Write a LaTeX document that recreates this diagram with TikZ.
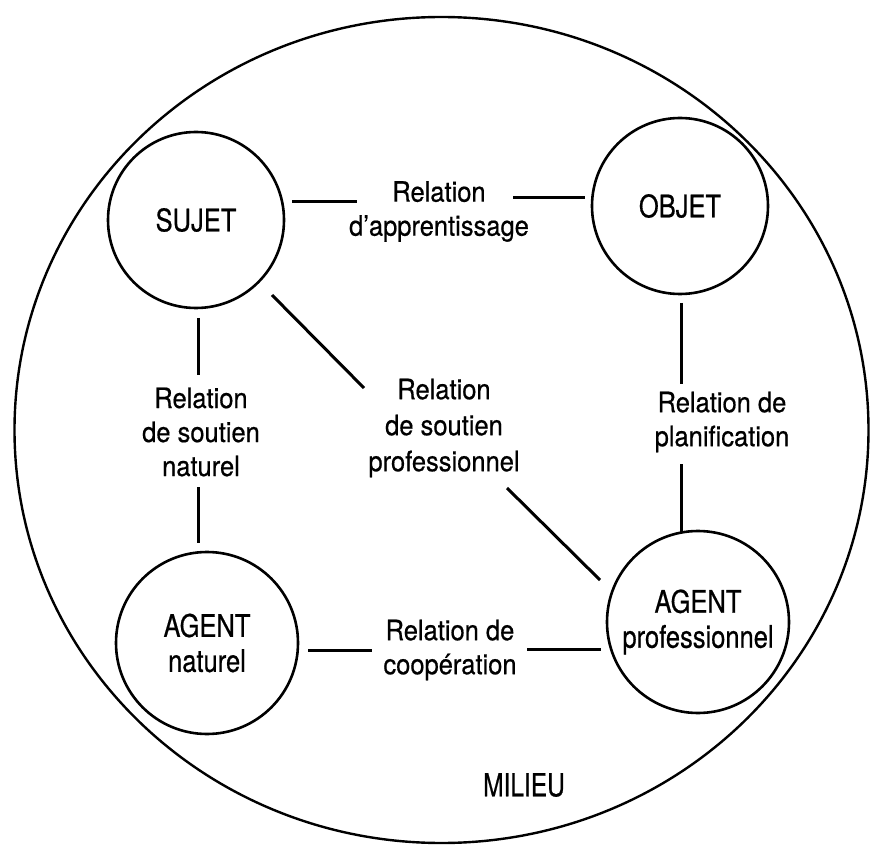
\documentclass[tikz,border=0pt]{standalone}
\usepackage{fontspec}
\usepackage{graphicx}
\setmainfont[FakeBold=0.6]{TeX Gyre Heros}
\newcommand{\vstretch}[2]{\scalebox{1}[#1]{#2}}
\newcommand{\rt}[1]{\vstretch{1.22}{#1}}
\newcommand{\lt}[1]{\vstretch{1.1}{#1}}
\usetikzlibrary{shapes.geometric}
\begin{document}
\begin{tikzpicture}[x=1pt,y=-1pt,
  role/.style={circle, draw, line width=2.6pt, minimum size=#1, inner sep=0pt, align=center,
    font=\fontsize{25.5}{35}\selectfont},
  lab/.style={inner sep=0pt, align=center, font=\fontsize{25.5}{#1}\selectfont},
  lab/.default=34,
  link/.style={line width=3pt}
]
\useasboundingbox (0,0) rectangle (871,845);
% milieu
\node[draw, ellipse, line width=2.4pt, minimum width=854pt, minimum height=826pt, inner sep=0pt] (milieuE) at (441.5,430) {};
\node[lab, font=\fontsize{24.5}{30}\selectfont] (milieu) at (524,785) {\vstretch{1.3}{MILIEU}};
% roles
\node[role=176pt] (sujet) at (196,220) {\rt{SUJET}};
\node[role=176pt] (objet) at (680,206) {\rt{OBJET}};
\node[role=182pt] (agnat) at (207,643) {\rt{AGENT}\\\rt{naturel}};
\node[role=182pt] (agpro) at (698,622) {\rt{AGENT}\\\rt{professionnel}};
% labels
\node[lab] (lapp) at (439,211.5) {\lt{Relation}\\\lt{d'apprentissage}};
\node[lab] (lsn) at (201,432) {\lt{Relation}\\\lt{de soutien}\\\lt{naturel}};
\node[lab=36] (lsp) at (444,428) {\lt{Relation}\\\lt{de soutien}\\\lt{professionnel}};
\node[lab] (lpl) at (722,422) {\lt{Relation de}\\\lt{planification}};
\node[lab] (lco) at (450,650) {\lt{Relation de}\\\lt{coopération}};
% connector end points
\coordinate (appA1) at (292,202); \coordinate (appA2) at (357,202);
\coordinate (appB1) at (513,198); \coordinate (appB2) at (585,198);
\coordinate (snA1) at (198,318); \coordinate (snA2) at (198,375);
\coordinate (snB1) at (198,487); \coordinate (snB2) at (198,543);
\coordinate (spA1) at (272,295); \coordinate (spA2) at (364,388);
\coordinate (spB1) at (507,488); \coordinate (spB2) at (600,580);
\coordinate (plA1) at (681,303); \coordinate (plA2) at (681,384);
\coordinate (plB1) at (681,464); \coordinate (plB2) at (681,533);
\coordinate (coA1) at (308,650); \coordinate (coA2) at (372,650);
\coordinate (coB1) at (527,649); \coordinate (coB2) at (601,649);
% connectors
\draw[link] (appA1) -- (appA2);
\draw[link] (appB1) -- (appB2);
\draw[link] (snA1) -- (snA2);
\draw[link] (snB1) -- (snB2);
\draw[link] (spA1) -- (spA2);
\draw[link] (spB1) -- (spB2);
\draw[link] (plA1) -- (plA2);
\draw[link] (plB1) -- (plB2);
\draw[link] (coA1) -- (coA2);
\draw[link] (coB1) -- (coB2);
\end{tikzpicture}
\end{document}
